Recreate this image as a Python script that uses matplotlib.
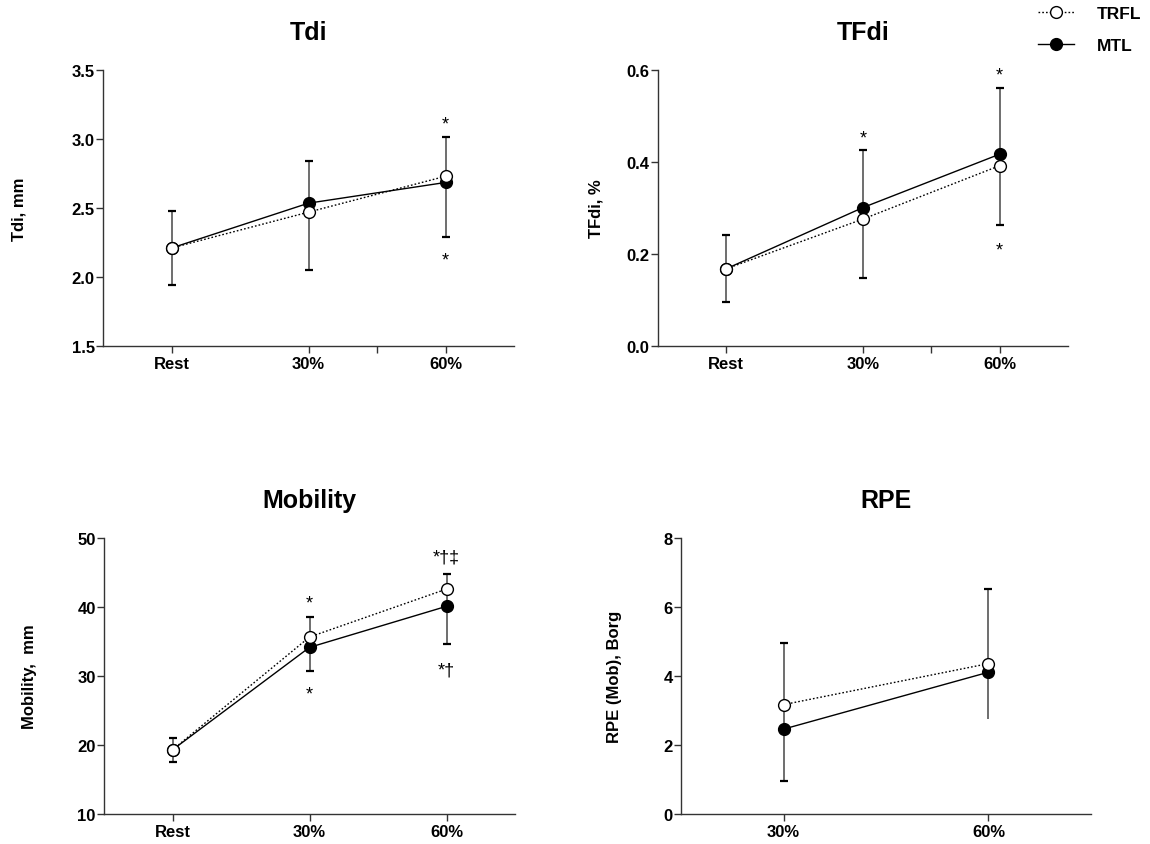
import matplotlib
matplotlib.use("Agg")
import matplotlib.pyplot as plt
from matplotlib.lines import Line2D

plt.rcParams['font.family'] = ['Liberation Sans', 'DejaVu Sans']
plt.rcParams['font.weight'] = 'bold'

# categories
cats3 = ['Rest', '30%', '60%']
cats2 = ['30%', '60%']

# Tdi (mm)
tdi_trfl = [2.21, 2.47, 2.73]
tdi_mtl = [2.21, 2.535, 2.685]
tdi_hi = [2.48, 2.84, 3.015]
tdi_lo = [1.945, 2.05, 2.29]
tdi_marks = [(2, 3.14, '*'), (2, 2.15, '*')]

# TFdi (%)
tfdi_trfl = [0.168, 0.276, 0.392]
tfdi_mtl = [0.168, 0.301, 0.417]
tfdi_hi = [0.241, 0.427, 0.561]
tfdi_lo = [0.096, 0.148, 0.263]
tfdi_marks = [(1, 0.461, '*'), (2, 0.598, '*'), (2, 0.218, '*')]

# Mobility (mm)
mob_trfl = [19.3, 35.65, 42.6]
mob_mtl = [19.3, 34.15, 40.1]
mob_hi = [20.97, 38.5, 44.8]
mob_lo = [17.6, 30.7, 34.7]
mob_marks = [(1, 41.2, '*'), (1, 27.9, '*'), (2, 47.4, '*\u2020\u2021'), (2, 31.0, '*\u2020')]

# RPE (Borg)
rpe_trfl = [3.17, 4.36]
rpe_mtl = [2.46, 4.11]
rpe_hi = [4.95, 6.52]
rpe_lo = [0.97, 2.75]
rpe_marks = []

W, H = 1150, 845
fig = plt.figure(figsize=(W / 100, H / 100), dpi=100)

AX_COLOR = '#333333'
ERR_COLOR = '#555555'


def panel(rect, cats, trfl, mtl, hi, lo, marks, title, ylabel, ylim, yticks, fmt,
          label_x, minor=None, lo_caps=None):
    ax = fig.add_axes(rect)
    x = list(range(len(cats)))
    if lo_caps is None:
        lo_caps = [True] * len(cats)
    # error bars
    ax.vlines(x, lo, hi, color=ERR_COLOR, lw=1.2, zorder=1)
    ax.plot(x, hi, ls='none', marker='_', ms=6, mew=1.6, color='k', zorder=1)
    ax.plot([xi for xi, c in zip(x, lo_caps) if c], [v for v, c in zip(lo, lo_caps) if c],
            ls='none', marker='_', ms=6, mew=1.6, color='k', zorder=1)
    # series
    ax.plot(x, mtl, ls='-', lw=1.0, color='k', marker='o', ms=8.5,
            mfc='k', mec='k', mew=1.0, zorder=3)
    ax.plot(x, trfl, ls=(0, (1.2, 1.5)), lw=1.0, color='k', marker='o', ms=8.5,
            mfc='white', mec='k', mew=1.0, zorder=4)
    for xi, yi, s in marks:
        off = -6 if len(s) == 1 else -4
        ax.annotate(s, (xi, yi), xytext=(0, off), textcoords='offset points',
                    ha='center', va='baseline', fontsize=13, fontweight='normal')
    ax.set_xlim(-0.5, len(cats) - 0.5)
    ax.set_ylim(*ylim)
    ax.set_yticks(yticks)
    ax.set_yticklabels([fmt.format(v) for v in yticks])
    ax.set_xticks(x)
    ax.set_xticklabels(cats)
    if minor is not None:
        ax.set_xticks(minor, minor=True)
    for side in ['top', 'right']:
        ax.spines[side].set_visible(False)
    for side in ['left', 'bottom']:
        ax.spines[side].set_color(AX_COLOR)
        ax.spines[side].set_linewidth(1.0)
    ax.tick_params(axis='both', which='both', length=5, width=1.0, color=AX_COLOR,
                   labelsize=12, pad=2)
    ax.tick_params(axis='y', pad=1)
    ax.set_title(title, fontsize=18, fontweight='bold', pad=22)
    ax.set_ylabel(ylabel, fontsize=12, fontweight='bold')
    ax.yaxis.set_label_coords(label_x, 0.5)
    return ax


def rect(l, t, r, b):
    return [l / W, 1 - b / H, (r - l) / W, (b - t) / H]


panel(rect(103, 71, 514, 347), cats3, tdi_trfl, tdi_mtl, tdi_hi, tdi_lo, tdi_marks,
      'Tdi', 'Tdi, mm', (1.5, 3.5), [1.5, 2.0, 2.5, 3.0, 3.5], '{:.1f}', -0.185, minor=[1.5])
panel(rect(658, 71, 1068, 347), cats3, tfdi_trfl, tfdi_mtl, tfdi_hi, tfdi_lo, tfdi_marks,
      'TFdi', 'TFdi, %', (0.0, 0.6), [0.0, 0.2, 0.4, 0.6], '{:.1f}', -0.134, minor=[1.5])
panel(rect(104, 539, 515, 815), cats3, mob_trfl, mob_mtl, mob_hi, mob_lo, mob_marks,
      'Mobility', 'Mobility,  mm', (10, 50), [10, 20, 30, 40, 50], '{:d}', -0.163)
panel(rect(681, 539, 1091, 815), cats2, rpe_trfl, rpe_mtl, rpe_hi, rpe_lo, rpe_marks,
      'RPE', 'RPE (Mob), Borg', (0, 8), [0, 2, 4, 6, 8], '{:d}', -0.144, lo_caps=[True, False])

handles = [
    Line2D([], [], ls=(0, (1.2, 1.5)), lw=1.0, color='k', marker='o', ms=8.5, mfc='white', mec='k'),
    Line2D([], [], ls='-', lw=1.0, color='k', marker='o', ms=8.5, mfc='k', mec='k'),
]
fig.legend(handles, ['TRFL', 'MTL'], loc='upper left', bbox_to_anchor=(1038 / W, 1 - 7 / H),
           frameon=False, fontsize=12.5, handlelength=2.1, handletextpad=1.3,
           labelspacing=0.95, borderpad=0, borderaxespad=0)

fig.savefig('out.png', dpi=100)
